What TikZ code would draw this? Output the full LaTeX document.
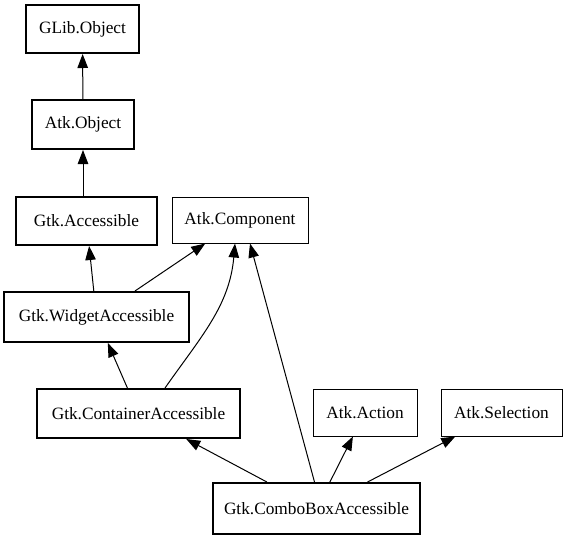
\documentclass[tikz,border=0pt]{standalone}
\usepackage{fontspec}
\setmainfont{Liberation Serif}
\usetikzlibrary{arrows.meta}
\usetikzlibrary{positioning}
\tikzset{every picture/.style={line width=1pt},
  klass/.style={draw,line width=2pt,inner sep=0pt,font=\fontsize{17.3}{20}\selectfont},
  iface/.style={klass,line width=1pt},
  inherit/.style={-{Triangle[length=14pt,width=10.5pt]},line width=1pt}}

\begin{document}
\begin{tikzpicture}[x=1pt,y=1pt]
\useasboundingbox (0,0) rectangle (567,-539);
\node[klass,minimum width=113pt,minimum height=48pt] (glibobj) at (82.5,-29) {GLib.Object};
\node[klass,minimum width=102pt,minimum height=49pt] (atkobj) at (83,-124.5) {Atk.Object};
\node[klass,minimum width=141pt,minimum height=48pt] (gtkacc) at (86.5,-221) {Gtk.Accessible};
\node[iface,minimum width=136pt,minimum height=46pt] (atkcomp) at (240,-220) {Atk.Component};
\node[klass,minimum width=185pt,minimum height=50pt] (widgetacc) at (96.5,-317) {Gtk.WidgetAccessible};
\node[klass,minimum width=203pt,minimum height=49pt] (containeracc) at (138.5,-413.5) {Gtk.ContainerAccessible};
\node[iface,minimum width=104pt,minimum height=47pt] (atkaction) at (365,-412.5) {Atk.Action};
\node[iface,minimum width=121pt,minimum height=47pt] (atksel) at (501.5,-412.5) {Atk.Selection};
\node[klass,minimum width=207pt,minimum height=51pt] (comboacc) at (316.5,-508.5) {Gtk.ComboBoxAccessible};

\draw[inherit] (atkobj) -- (glibobj);
\draw[inherit] (gtkacc.north -| atkobj.south) -- (atkobj.south);
\draw[inherit] (widgetacc) -- (gtkacc);
\draw[inherit] (widgetacc) -- (atkcomp);
\draw[inherit] (containeracc) -- (widgetacc);
\draw[inherit] ([xshift=26.5pt]containeracc.north) to[out=55,in=-95] ([xshift=-5pt]atkcomp.south);
\draw[inherit] ([xshift=-2pt]comboacc.north) -- ([xshift=10pt]atkcomp.south);
\draw[inherit] (comboacc) -- (containeracc);
\draw[inherit] (comboacc) -- (atkaction);
\draw[inherit] (comboacc) -- (atksel);
\end{tikzpicture}
\end{document}
